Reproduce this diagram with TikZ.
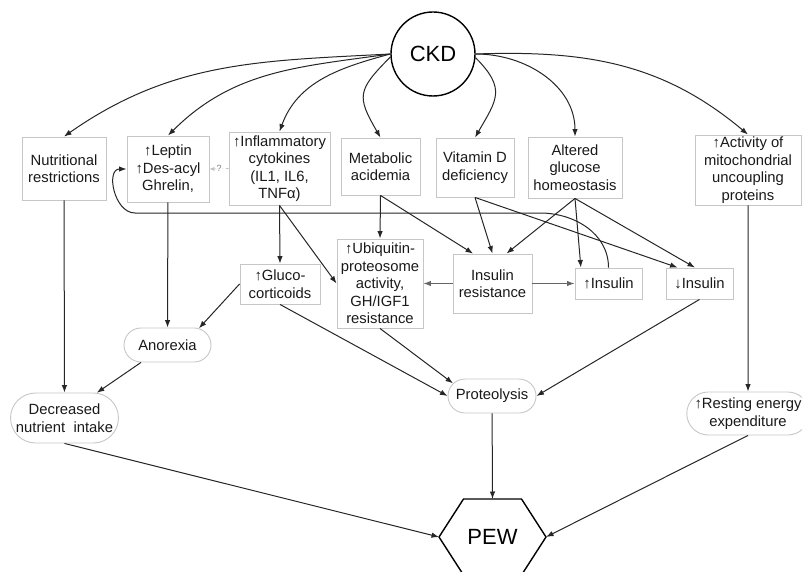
\documentclass[tikz,border=0pt]{standalone}
\usepackage{fontspec}
\setmainfont{Liberation Sans}
\usetikzlibrary{positioning}
\usetikzlibrary{arrows.meta,shapes.misc}
\usetikzlibrary{calc}

\begin{document}
\begin{tikzpicture}[x=1pt, y=1pt,
  box/.style={draw=gray!45, line width=0.9pt, align=center, inner sep=1pt, text=black!90,
    font={\fontsize{14.8}{17.5}\selectfont}},
  pill/.style={box, rounded rectangle},
  arr/.style={-{Latex[length=7.5pt,width=5.5pt]}, line width=1pt, black!85},
  softarr/.style={arr, black!60},
  qarr/.style={-{Latex[length=5pt,width=4pt]}, line width=0.6pt, gray!50, dashed},
  qmark/.style={fill=white, inner sep=0.5pt, text=gray, font={\fontsize{9}{10}\selectfont}}]

\useasboundingbox (0,0) rectangle (802,-572);

% top: CKD and its direct effects
\node[circle, draw, line width=1.4pt, minimum size=84pt, inner sep=0pt,
  font={\fontsize{22}{26}\selectfont}] (ckd) at (433,-54) {CKD};

\node[box, minimum width=84pt, minimum height=63pt] (nutr) at (64,-168.5) {Nutritional\\restrictions};
\node[box, minimum width=82pt, minimum height=66pt] (lept) at (168,-169) {↑Leptin\\↑Des-acyl\\Ghrelin,};
\node[box, minimum width=101pt, minimum height=73pt] (infl) at (279.5,-168.5) {↑Inflammatory\\cytokines\\(IL1, IL6,\\TNFα)};
\node[box, minimum width=79pt, minimum height=57pt] (meta) at (380.5,-166.5) {Metabolic\\acidemia};
\node[box, minimum width=78pt, minimum height=59pt] (vitd) at (475,-167.5) {Vitamin D\\deficiency};
\node[box, minimum width=94pt, minimum height=61pt] (gluc) at (575,-167.5) {Altered\\glucose\\homeostasis};
\node[box, minimum width=106pt, minimum height=70pt] (mito) at (748,-170) {↑Activity of\\mitochondrial\\uncoupling\\proteins};

% middle row
\node[box, minimum width=80pt, minimum height=40pt] (cort) at (280,-284) {↑Gluco-\\corticoids};
\node[box, minimum width=86pt, minimum height=89pt] (ubiq) at (380,-283.5) {↑Ubiquitin-\\proteosome\\activity,\\GH/IGF1\\resistance};
\node[box, minimum width=79pt, minimum height=59pt] (insr) at (492.5,-283.5) {Insulin\\resistance};
\node[box, minimum width=67pt, minimum height=31pt] (insup) at (608.5,-283.5) {↑Insulin};
\node[box, minimum width=67pt, minimum height=31pt] (insdn) at (699.5,-283.5) {↓Insulin};

% outcomes
\node[pill, minimum width=89pt, minimum height=34pt] (anor) at (167.5,-345) {Anorexia};
\node[pill, minimum width=107pt, minimum height=50pt] (intake) at (64.5,-418) {Decreased\\nutrient~ intake};
\node[pill, minimum width=90pt, minimum height=34pt] (prot) at (492,-396) {Proteolysis};
\node[pill, minimum width=112pt, minimum height=43pt] (rest) at (748,-413.5) {↑Resting energy\\expenditure};

\node[minimum width=107pt, minimum height=76pt, outer sep=0pt,
  font={\fontsize{22}{26}\selectfont}] (pew) at (492.5,-537) {PEW};
\draw[line width=1.4pt, line join=round] (pew.west) -- ($(pew.north west)+(24.5,0)$) -- ($(pew.north east)+(-24.5,0)$)
  -- (pew.east) -- ($(pew.south east)+(-24.5,0)$) -- ($(pew.south west)+(24.5,0)$) -- cycle;

% arrows out of CKD
\draw[arr] (ckd.west) to[out=183, in=35] (nutr.north);
\draw[arr] (ckd.west) to[out=188, in=45] (lept.north);
\draw[arr] (ckd.west) to[out=195, in=70] (infl.north);
\draw[arr] (ckd.-176) to[out=225, in=120, looseness=1.5] (meta.north);
\draw[arr] (ckd.-5) to[out=-45, in=60, looseness=1.4] (vitd.north);
\draw[arr] (ckd.east) to[out=0, in=90] (gluc.north);
\draw[arr] (ckd.east) to[out=2, in=140] (mito.north);

\draw[qarr] (infl.west) -- node[qmark] {?} (lept.east);

\draw[arr] (nutr) -- (intake);
\draw[arr] (lept) -- (anor);
\draw[arr] (anor.south west) -- (intake.38);
\draw[arr] (cort.west) -- (anor.28);
\draw[arr] (infl.south) -- (cort.north);
\draw[arr] (infl.south) -- (ubiq.west);
\draw[arr] (meta.south) -- (ubiq.north);
\draw[arr] (meta.south) -- (insr.123.5);
\draw[arr] (vitd.south) -- (insr.north);
\draw[arr] (vitd.south) -- (insdn.144);
\draw[arr] (gluc.south) -- (insr.65);
\draw[arr] (gluc.south) -- (insup.150);
\draw[arr] (gluc.south) -- (insdn.106);
\draw[softarr] (insr.west) -- (ubiq.east);
\draw[softarr] (insr.east) -- (insup.west);

% feedback loop from high insulin back to leptin
\coordinate (loopR) at (540,-213);
\coordinate (loopL) at (135,-213);
\draw[arr] (insup.north) to[out=90, in=0] (loopR) -- (loopL) to[out=180, in=180, looseness=1.2] (lept.west);

\draw[arr] (cort.south) -- (prot.west);
\draw[arr] (ubiq.south) -- (prot.162);
\draw[arr] (insdn.south) -- (prot.east);
\draw[arr] (mito) -- (rest);

\draw[arr] (prot) -- (pew.north);
\draw[arr] (intake.south) -- (pew.west);
\draw[arr] (rest.south) -- (pew.east);

\end{tikzpicture}
\end{document}
